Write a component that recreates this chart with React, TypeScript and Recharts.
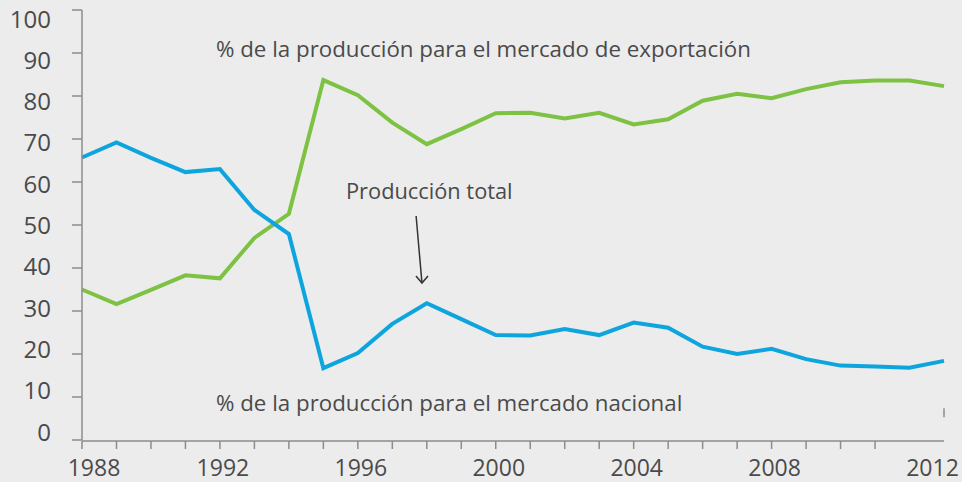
import React from 'react';
import { LineChart, Line, XAxis, YAxis, ReferenceLine } from 'recharts';

const years = [
  1988, 1989, 1990, 1991, 1992, 1993, 1994, 1995, 1996, 1997, 1998, 1999, 2000,
  2001, 2002, 2003, 2004, 2005, 2006, 2007, 2008, 2009, 2010, 2011, 2012, 2013,
];
const nacional = [
  65.7, 69.2, 65.6, 62.3, 63.0, 53.5, 47.9, 16.7, 20.2, 27.0, 31.8, 28.1, 24.4,
  24.3, 25.8, 24.4, 27.3, 26.1, 21.7, 20.0, 21.2, 18.8, 17.3, 17.1, 16.8, 18.4,
];
const exportacion = [
  35.0, 31.6, 34.9, 38.3, 37.6, 47.0, 52.6, 83.7, 80.2, 73.8, 68.8, 72.3, 76.0,
  76.1, 74.8, 76.1, 73.4, 74.6, 78.9, 80.5, 79.5, 81.6, 83.2, 83.6, 83.6, 82.3,
];
const yearLabels = [1988, 1992, 1996, 2000, 2004, 2008, 2012];
const yTicks = [0, 10, 20, 30, 40, 50, 60, 70, 80, 90, 100];
const minorTicks = Array.from({ length: 24 }, (_, i) => i);

const data = years.map((year, i) => ({ year, nacional: nacional[i], exportacion: exportacion[i] }));

const FONT = '"Open Sans", "Noto Sans", sans-serif';
const TEXT = '#4a4a4a';
const AXIS = '#8c8c8c';

const YTick = (props: any) => {
  const { x, y, payload } = props;
  // labels in the source drift slightly from their tick marks
  const shift = -8 + 0.17 * payload.value;
  return (
    <text x={x} y={y + shift} dy={8.5} textAnchor="end" fill={TEXT} fontSize={24} fontFamily={FONT}>
      {payload.value}
    </text>
  );
};

const XTick = (props: any) => {
  const { x, y, payload, index } = props;
  let dx = 3;
  if (index === 0) dx = 12;
  if (index === yearLabels.length - 1) dx = 23;
  return (
    <text x={x + dx} y={y} dy={28} textAnchor="middle" fill={TEXT} fontSize={23} fontFamily={FONT}>
      {payload.value}
    </text>
  );
};

const MinorTick = (props: any) => {
  const { x, y } = props;
  return <line x1={x} x2={x} y1={y - 8} y2={y} stroke={AXIS} strokeWidth={1.5} />;
};

const Arrow = (props: any) => {
  const { x1, y1, x2, y2 } = props;
  if (x1 == null) return null;
  return (
    <g stroke="#333" strokeWidth={1.5} fill="none">
      <line x1={x1} y1={y1} x2={x2} y2={y2} />
      <polyline points={`${x2 - 6},${y2 - 7} ${x2},${y2} ${x2 + 6},${y2 - 7}`} />
    </g>
  );
};

export default function App() {
  return (
    <div style={{ position: 'absolute', left: 0, top: 0, width: 962, height: 482, background: '#ececec' }}>
      <LineChart width={962} height={482} data={data} margin={{ top: 10, right: 18, bottom: 0, left: 0 }}>
        <XAxis
          dataKey="year"
          type="number"
          domain={[1988, 2013]}
          ticks={yearLabels}
          interval={0}
          tick={<XTick />}
          tickLine={false}
          axisLine={false}
          height={1}
        />
        <XAxis
          xAxisId="minor"
          type="number"
          domain={[0, 24]}
          ticks={minorTicks}
          interval={0}
          height={41}
          tickSize={8}
          tickMargin={0}
          tickLine={false}
          tick={<MinorTick />}
          stroke={AXIS}
          strokeWidth={1.5}
          allowDataOverflow
        />
        <YAxis
          domain={[0, 100]}
          ticks={yTicks}
          width={82}
          tickSize={10}
          tickMargin={21}
          tick={<YTick />}
          stroke={AXIS}
          strokeWidth={1.5}
          interval={0}
        />
        <Line
          type="linear"
          dataKey="exportacion"
          stroke="#7dc242"
          strokeWidth={4}
          dot={false}
          isAnimationActive={false}
        />
        <Line
          type="linear"
          dataKey="nacional"
          stroke="#0ea5de"
          strokeWidth={4}
          dot={false}
          isAnimationActive={false}
        />
        <ReferenceLine
          segment={[{ x: 1997.69, y: 52.1 }, { x: 1997.86, y: 36.5 }]}
          shape={<Arrow />}
        />
        <ReferenceLine
          segment={[{ x: 2013, y: 5.3 }, { x: 2013, y: 7.4 }]}
          stroke={AXIS}
          strokeWidth={1.5}
        />
      </LineChart>
      <svg width={962} height={482} style={{ position: 'absolute', left: 0, top: 0, pointerEvents: 'none' }}>
        <g fill={TEXT} fontFamily={FONT}>
          <text x={216} y={57} fontSize={22.3}>% de la producción para el mercado de exportación</text>
          <text x={346} y={199} fontSize={21.8}>Producción total</text>
          <text x={216} y={411} fontSize={22.3}>% de la producción para el mercado nacional</text>
        </g>
      </svg>
    </div>
  );
}
